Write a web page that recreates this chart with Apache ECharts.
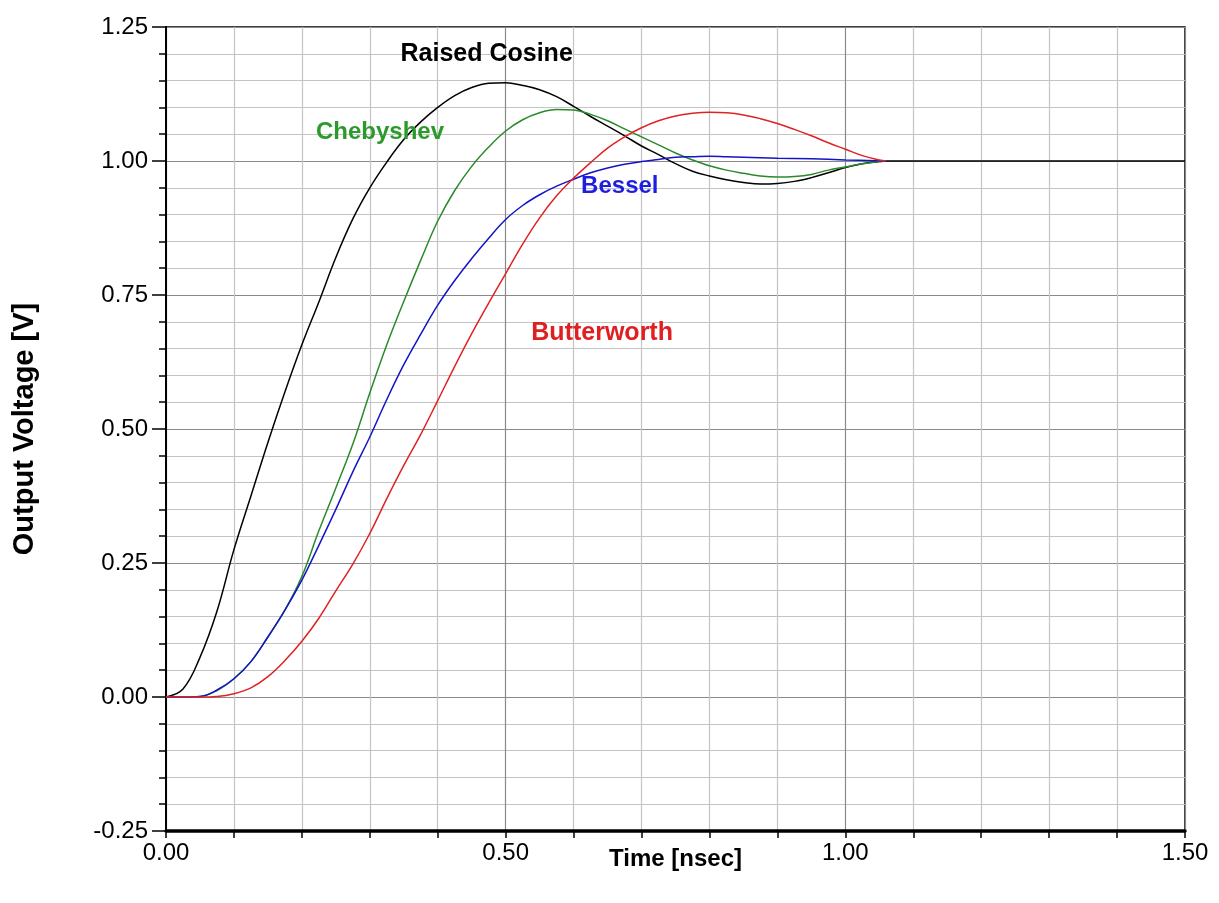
<!DOCTYPE html>
<html>
<head>
<meta charset="utf-8">
<script src="https://cdn.jsdelivr.net/npm/echarts@6/dist/echarts.min.js"></script>
<style>
html,body{margin:0;padding:0;background:#fff;}
#c{width:1219px;height:903px;}
</style>
</head>
<body>
<div id="c"></div>
<script>
// ---- data ----
const seriesNames = ['Raised Cosine', 'Chebyshev', 'Bessel', 'Butterworth'];

const raisedT = [0, 0.025, 0.05, 0.075, 0.1, 0.125, 0.15, 0.175, 0.2, 0.225, 0.25, 0.275, 0.3, 0.325, 0.35, 0.375, 0.4, 0.425, 0.45, 0.475, 0.5, 0.525, 0.55, 0.575, 0.6, 0.625, 0.65, 0.675, 0.7, 0.725, 0.75, 0.775, 0.8, 0.825, 0.85, 0.875, 0.9, 0.925, 0.95, 0.975, 1.0, 1.025, 1.05, 1.06, 1.5];
const raisedV = [0, 0.015, 0.074, 0.16, 0.275, 0.375, 0.475, 0.569, 0.657, 0.737, 0.82, 0.892, 0.95, 0.998, 1.04, 1.073, 1.10, 1.122, 1.137, 1.145, 1.146, 1.141, 1.133, 1.12, 1.102, 1.083, 1.065, 1.047, 1.028, 1.012, 0.995, 0.981, 0.972, 0.965, 0.96, 0.957, 0.958, 0.962, 0.969, 0.978, 0.988, 0.995, 0.999, 1.0, 1.0];

const chebT = [0, 0.025, 0.05, 0.075, 0.1, 0.125, 0.15, 0.175, 0.2, 0.225, 0.25, 0.275, 0.3, 0.325, 0.35, 0.375, 0.4, 0.425, 0.45, 0.475, 0.5, 0.525, 0.55, 0.575, 0.6, 0.625, 0.65, 0.675, 0.7, 0.725, 0.75, 0.775, 0.8, 0.825, 0.85, 0.875, 0.9, 0.925, 0.95, 0.975, 1.0, 1.025, 1.05, 1.06];
const chebV = [0, 0, 0.001, 0.012, 0.034, 0.066, 0.112, 0.162, 0.225, 0.31, 0.39, 0.472, 0.567, 0.657, 0.738, 0.815, 0.888, 0.945, 0.99, 1.026, 1.056, 1.077, 1.09, 1.096, 1.095, 1.087, 1.075, 1.06, 1.045, 1.03, 1.015, 1.002, 0.991, 0.983, 0.977, 0.972, 0.97, 0.971, 0.975, 0.983, 0.989, 0.995, 0.999, 1.0];

const besselT = [0, 0.025, 0.05, 0.075, 0.1, 0.125, 0.15, 0.175, 0.2, 0.225, 0.25, 0.275, 0.3, 0.325, 0.35, 0.375, 0.4, 0.425, 0.45, 0.475, 0.5, 0.525, 0.55, 0.575, 0.6, 0.625, 0.65, 0.675, 0.7, 0.725, 0.75, 0.775, 0.8, 0.825, 0.85, 0.9, 0.95, 1.0, 1.06];
const besselV = [0, 0, 0.001, 0.013, 0.034, 0.066, 0.112, 0.162, 0.218, 0.283, 0.35, 0.42, 0.485, 0.555, 0.62, 0.677, 0.731, 0.777, 0.818, 0.856, 0.891, 0.917, 0.937, 0.953, 0.966, 0.978, 0.987, 0.994, 0.999, 1.003, 1.007, 1.008, 1.009, 1.008, 1.007, 1.005, 1.004, 1.002, 1.0];

const buttT = [0, 0.025, 0.05, 0.075, 0.1, 0.125, 0.15, 0.175, 0.2, 0.225, 0.25, 0.275, 0.3, 0.325, 0.35, 0.375, 0.4, 0.425, 0.45, 0.475, 0.5, 0.525, 0.55, 0.575, 0.6, 0.625, 0.65, 0.675, 0.7, 0.725, 0.75, 0.775, 0.8, 0.825, 0.85, 0.875, 0.9, 0.925, 0.95, 0.975, 1.0, 1.025, 1.05, 1.06];
const buttV = [0, 0, 0, 0.001, 0.006, 0.017, 0.038, 0.068, 0.104, 0.147, 0.198, 0.248, 0.305, 0.37, 0.432, 0.49, 0.553, 0.617, 0.678, 0.735, 0.79, 0.845, 0.894, 0.935, 0.968, 0.997, 1.024, 1.045, 1.062, 1.075, 1.084, 1.089, 1.091, 1.09, 1.086, 1.079, 1.07, 1.059, 1.047, 1.034, 1.022, 1.01, 1.002, 1.0];

const xTickLabels = ['0.00', '0.50', '1.00', '1.50'];
const yTickLabels = ['-0.25', '0.00', '0.25', '0.50', '0.75', '1.00', '1.25'];

// ---- chart ----
const pairs = (t, v) => t.map((x, i) => [x, v[i]]);
const FONT = '"Liberation Sans", Arial, sans-serif';
const chart = echarts.init(document.getElementById('c'), null, {renderer: 'canvas'});

function lineSeries(name, t, v, color, labelCoord, labelColor, fs) {
  return {
    name: name, type: 'line', data: pairs(t, v), xAxisIndex: 0, yAxisIndex: 0,
    showSymbol: false, smooth: 0.4, animation: false,
    lineStyle: {color: color, width: 1.5},
    markPoint: {
      symbol: 'circle', symbolSize: 0, animation: false,
      data: [{coord: labelCoord, value: name}],
      label: {show: true, position: 'inside', formatter: name, color: labelColor,
              fontFamily: FONT, fontSize: fs, fontWeight: 'bold'}
    }
  };
}

const gridMinor = '#c4c4c4', gridMajor = '#8a8a8a';

chart.setOption({
  backgroundColor: '#fff',
  animation: false,
  grid: {left: 166, right: 34, top: 27, bottom: 72, show: true, borderColor: '#000', borderWidth: 1.5},
  xAxis: [{
    type: 'value', min: 0, max: 1.5, interval: 0.1,
    name: 'Time [nsec]', nameLocation: 'middle', nameGap: 16, nameMoveOverlap: false,
    nameTextStyle: {fontFamily: FONT, fontSize: 24, fontWeight: 'bold', color: '#000', verticalAlign: 'top'},
    axisLine: {show: true, onZero: false, lineStyle: {color: '#000', width: 3.5}},
    axisTick: {show: true, inside: false, length: 7, lineStyle: {color: '#000', width: 1.5}},
    axisLabel: {
      show: true, margin: 10, color: '#000', fontFamily: FONT, fontSize: 24,
      formatter: function (val) {
        const k = val / 0.5;
        if (Math.abs(k - Math.round(k)) < 1e-6) return xTickLabels[Math.round(k)];
        return '';
      }
    },
    splitLine: {show: true, lineStyle: {color: [gridMajor, gridMinor, gridMinor, gridMinor, gridMinor], width: 1.2}}
  }],
  yAxis: [{
    type: 'value', min: -0.25, max: 1.25, interval: 0.05,
    axisLine: {show: true, onZero: false, lineStyle: {color: '#000', width: 2}},
    axisTick: {show: true, inside: false, length: 7, lineStyle: {color: '#000', width: 1.5}},
    axisLabel: {show: false},
    splitLine: {show: true, lineStyle: {color: [gridMajor, gridMinor, gridMinor, gridMinor, gridMinor], width: 1.2}}
  }, {
    type: 'value', min: -0.25, max: 1.25, interval: 0.25, position: 'left', offset: 0,
    name: 'Output Voltage [V]', nameLocation: 'middle', nameGap: 127, nameRotate: 90, nameMoveOverlap: false,
    nameTextStyle: {fontFamily: FONT, fontSize: 29, fontWeight: 'bold', color: '#000'},
    axisLine: {show: true, onZero: false, lineStyle: {color: '#000', width: 2}},
    axisTick: {show: true, inside: false, length: 14, lineStyle: {color: '#000', width: 1.5}},
    axisLabel: {
      show: true, margin: 18, color: '#000', fontFamily: FONT, fontSize: 24,
      formatter: function (val) {
        const k = Math.round((val + 0.25) / 0.25);
        return yTickLabels[k] !== undefined ? yTickLabels[k] : '';
      }
    },
    splitLine: {show: false}
  }],
  series: [
    lineSeries(seriesNames[0], raisedT, raisedV, '#000000', [0.472, 1.20], '#000000', 25),
    lineSeries(seriesNames[1], chebT, chebV, '#2a8a2a', [0.315, 1.054], '#2b9a2b', 24),
    lineSeries(seriesNames[2], besselT, besselV, '#1414c8', [0.668, 0.953], '#1e1ee0', 24),
    lineSeries(seriesNames[3], buttT, buttV, '#e02222', [0.642, 0.679], '#e02020', 25)
  ]
});
</script>
</body>
</html>
